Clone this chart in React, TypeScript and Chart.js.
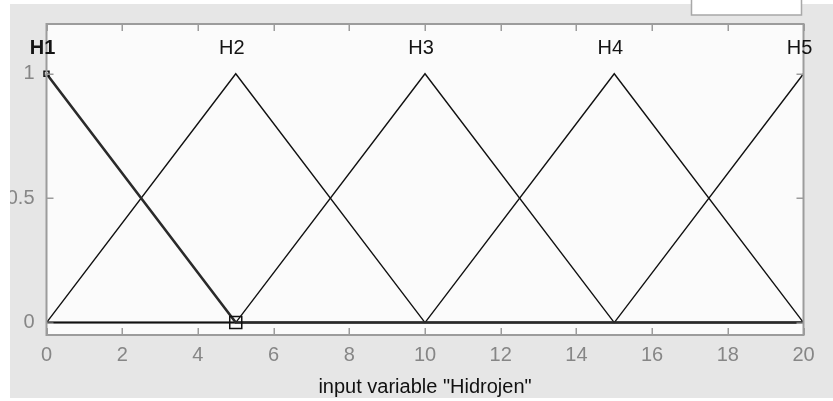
import React, { useEffect, useRef } from "react";
import { Chart, registerables } from "chart.js";

Chart.register(...registerables);

// Breakpoints of the input universe (Hidrojen) and the membership of each set there
const inputPoints = [0, 5, 10, 15, 20];
const h1Values = [1, 0, 0, 0, 0];
const h2Values = [0, 1, 0, 0, 0];
const h3Values = [0, 0, 1, 0, 0];
const h4Values = [0, 0, 0, 1, 0];
const h5Values = [0, 0, 0, 0, 1];

// Set names and where each name is written (at the set's peak)
const mfNames = ["H1", "H2", "H3", "H4", "H5"];
const mfPeaks = [0, 5, 10, 15, 20];
const nameLevel = 1.1;

// Axis ranges and tick values
const xMin = 0;
const xMax = 20;
const xStep = 2;
const yMin = -0.05;
const yMax = 1.2;
const yTickValues = [0, 0.5, 1];

const axisTitle = 'input variable "Hidrojen"';

const FONT = "'Liberation Sans', Arial, Helvetica, sans-serif";
const FRAME = "#9c9c9c";

const toPoints = (vals: number[]) => inputPoints.map((x, i) => ({ x, y: vals[i] }));

const panelPlugin = {
  id: "panel",
  beforeDraw(chart: any) {
    const { ctx, width, height } = chart;
    const { left, top, right, bottom } = chart.chartArea;
    ctx.save();
    ctx.fillStyle = "#ffffff";
    ctx.fillRect(0, 0, width, height);
    ctx.fillStyle = "#e6e6e6";
    ctx.fillRect(10, 4, width - 10, 394);
    ctx.fillStyle = "#fbfbfb";
    ctx.fillRect(left, top, right - left, bottom - top);
    ctx.restore();
  },
  afterDraw(chart: any) {
    const { ctx, width, height } = chart;
    const { left, top, right, bottom } = chart.chartArea;
    const xs = chart.scales.x;
    const ys = chart.scales.y;
    ctx.save();

    // inward tick marks
    ctx.strokeStyle = FRAME;
    ctx.lineWidth = 1.5;
    const tl = 7;
    ctx.beginPath();
    for (let v = xMin; v <= xMax; v += xStep) {
      const px = Math.round(xs.getPixelForValue(v)) + 0.25;
      ctx.moveTo(px, top);
      ctx.lineTo(px, top + tl);
      ctx.moveTo(px, bottom);
      ctx.lineTo(px, bottom - tl);
    }
    for (const v of yTickValues) {
      const py = Math.round(ys.getPixelForValue(v)) + 0.25;
      ctx.moveTo(left, py);
      ctx.lineTo(left + tl, py);
      ctx.moveTo(right, py);
      ctx.lineTo(right - tl, py);
    }
    ctx.stroke();

    // axes box
    ctx.lineWidth = 2;
    ctx.strokeRect(left, top, right - left, bottom - top);

    // set names above the peaks
    ctx.fillStyle = "#141414";
    ctx.textAlign = "center";
    ctx.textBaseline = "middle";
    mfNames.forEach((name, i) => {
      ctx.font = `${i === 0 ? "bold " : ""}20px ${FONT}`;
      ctx.fillText(name, xs.getPixelForValue(mfPeaks[i]) - 4, ys.getPixelForValue(nameLevel));
    });

    // window edges
    ctx.fillStyle = "#ffffff";
    ctx.fillRect(0, 0, 10, height);
    ctx.fillRect(0, 398, width, height - 398);
    ctx.fillRect(0, 0, width, 4);
    ctx.fillRect(691, 0, 111, 15);
    ctx.strokeStyle = "#a8a8a8";
    ctx.lineWidth = 1.5;
    ctx.beginPath();
    ctx.moveTo(691.5, 0);
    ctx.lineTo(691.5, 15);
    ctx.lineTo(801.5, 15);
    ctx.lineTo(801.5, 0);
    ctx.stroke();

    ctx.restore();
  },
};

export default function App() {
  const canvasRef = useRef<HTMLCanvasElement | null>(null);

  useEffect(() => {
    document.body.style.margin = "0";
    const canvas = canvasRef.current;
    if (!canvas) return;

    const thin = (vals: number[]) => ({
      data: toPoints(vals),
      borderColor: "#111111",
      borderWidth: 1.4,
      pointRadius: 0,
      tension: 0,
      clip: false as any,
    });

    const chart = new Chart(canvas, {
      type: "line",
      data: {
        datasets: [
          {
            data: toPoints(h1Values),
            borderColor: "#2a2a2a",
            borderWidth: 2.6,
            pointStyle: "rect",
            pointRadius: [3.5, 8.5, 0, 0, 0],
            pointBorderColor: "#111111",
            pointBorderWidth: 1.5,
            pointBackgroundColor: "rgba(0,0,0,0)",
            tension: 0,
            clip: false as any,
          },
          thin(h2Values),
          thin(h3Values),
          thin(h4Values),
          thin(h5Values),
        ],
      },
      options: {
        responsive: false,
        animation: false,
        events: [],
        layout: { padding: { top: 21, right: 29.5, left: 0, bottom: 0 } },
        plugins: {
          legend: { display: false },
          tooltip: { enabled: false },
        },
        scales: {
          x: {
            type: "linear",
            min: xMin,
            max: xMax,
            grid: { display: false, drawTicks: false },
            border: { display: false },
            ticks: {
              stepSize: xStep,
              color: "#868686",
              padding: 8,
              font: { family: FONT, size: 20 },
            },
            title: {
              display: true,
              text: axisTitle,
              color: "#111111",
              font: { family: FONT, size: 20 },
              padding: { top: 0, bottom: 2 },
            },
            afterFit(scale: any) {
              scale.height = 66;
            },
          },
          y: {
            type: "linear",
            min: yMin,
            max: yMax,
            grid: { display: false, drawTicks: false },
            border: { display: false },
            afterBuildTicks(scale: any) {
              scale.ticks = yTickValues.map((value) => ({ value }));
            },
            ticks: {
              color: "#868686",
              padding: 12,
              font: { family: FONT, size: 20 },
              callback: (v: any) => String(v),
            },
            afterFit(scale: any) {
              scale.width = 46.5;
            },
          },
        },
      },
      plugins: [panelPlugin],
    });

    return () => chart.destroy();
  }, []);

  return <canvas ref={canvasRef} width={833} height={401} style={{ display: "block" }} />;
}
